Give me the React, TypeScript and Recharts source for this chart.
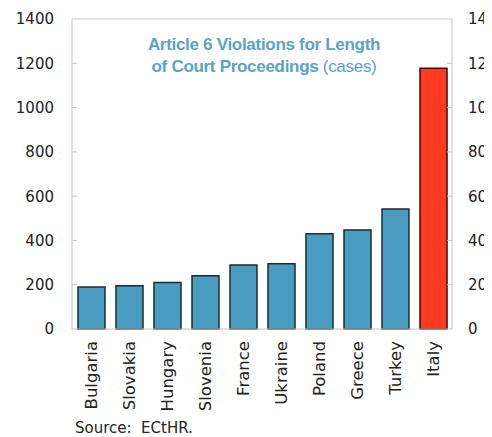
import React from 'react';
import { ComposedChart, Bar, Line, XAxis, YAxis, Cell, ReferenceLine } from 'recharts';

const countries = ['Bulgaria', 'Slovakia', 'Hungary', 'Slovenia', 'France', 'Ukraine', 'Poland', 'Greece', 'Turkey', 'Italy'];
const cases = [190, 195, 210, 240, 289, 295, 430, 447, 542, 1178];
const yTicks = [0, 200, 400, 600, 800, 1000, 1200, 1400];
const highlighted = 'Italy';

const data = countries.map((name, i) => ({ name, cases: cases[i] }));

const BLUE = '#4a9cc0';
const RED = '#ff3a20';
const FRAME = '#c4c4c4';
const TICK_FONT = 'DejaVu Sans, Verdana, sans-serif';

const LeftTick = (props: any) => {
  const { x, y, payload } = props;
  return (
    <g>
      {payload.value !== 0 && payload.value !== 1400 && (
        <line x1={x + 18} y1={y} x2={x + 23} y2={y} stroke={FRAME} strokeWidth={1} />
      )}
      <text x={x} y={y} dy="0.36em" textAnchor="end" fontFamily={TICK_FONT} fontSize={15} fill="#222">
        {payload.value}
      </text>
    </g>
  );
};

const RightTick = (props: any) => {
  const { x, y, payload } = props;
  return (
    <g>
      {payload.value !== 0 && payload.value !== 1400 && (
        <line x1={x - 21} y1={y} x2={x - 16} y2={y} stroke={FRAME} strokeWidth={1} />
      )}
      <text x={x} y={y} dy="0.36em" textAnchor="start" fontFamily={TICK_FONT} fontSize={15} fill="#222">
        {payload.value}
      </text>
    </g>
  );
};

const CountryTick = (props: any) => {
  const { x, y, payload } = props;
  return (
    <text
      x={x}
      y={y}
      dy={6}
      textAnchor="end"
      transform={`rotate(-90, ${x}, ${y})`}
      fontFamily={TICK_FONT}
      fontSize={16.5}
      fill="#222"
    >
      {payload.value}
    </text>
  );
};

export default function App() {
  return (
    <div style={{ position: 'relative', width: 484, height: 429, overflow: 'hidden', background: '#fff' }}>
      <ComposedChart
        width={520}
        height={429}
        data={data}
        margin={{ top: 11, right: 0, bottom: 18, left: 0 }}
        barSize={27}
      >
        <XAxis
          dataKey="name"
          interval={0}
          height={90}
          tickSize={0}
          tickMargin={12}
          tickLine={false}
          axisLine={{ stroke: FRAME }}
          tick={<CountryTick />}
        />
        <YAxis
          yAxisId="left"
          width={64}
          domain={[0, 1400]}
          ticks={yTicks}
          interval={0}
          tickSize={0}
          tickMargin={18}
          tickLine={false}
          axisLine={{ stroke: FRAME }}
          tick={<LeftTick />}
        />
        <YAxis
          yAxisId="right"
          orientation="right"
          width={76}
          domain={[0, 1400]}
          ticks={yTicks}
          interval={0}
          tickSize={0}
          tickMargin={16}
          tickLine={false}
          axisLine={{ stroke: FRAME }}
          tick={<RightTick />}
        />
        <ReferenceLine yAxisId="left" y={1400} stroke={FRAME} />
        <Bar yAxisId="left" dataKey="cases" stroke="#1c2b32" strokeWidth={1.5} isAnimationActive={false}>
          {data.map((d) => (
            <Cell key={d.name} fill={d.name === highlighted ? RED : BLUE} stroke={d.name === highlighted ? '#3a0c06' : '#1c2b32'} />
          ))}
        </Bar>
        {/* mirrored scale on the right side shares the same series */}
        <Line
          yAxisId="right"
          dataKey="cases"
          stroke="none"
          dot={false}
          activeDot={false}
          legendType="none"
          isAnimationActive={false}
        />
      </ComposedChart>
      <div
        style={{
          position: 'absolute',
          left: 96,
          width: 320,
          top: 26,
          textAlign: 'center',
          fontFamily: 'Liberation Sans, Arial, sans-serif',
          fontSize: 17,
          lineHeight: '22px',
          fontWeight: 'bold',
          color: '#5aa3c5',
          letterSpacing: -0.3,
        }}
      >
        <div>Article 6 Violations for Length</div>
        <div>
          of Court Proceedings <span style={{ fontWeight: 'normal' }}>(cases)</span>
        </div>
      </div>
      <div
        style={{
          position: 'absolute',
          left: 67,
          top: 413,
          fontFamily: TICK_FONT,
          fontSize: 15,
          lineHeight: '15px',
          color: '#222',
          whiteSpace: 'pre',
        }}
      >
        {'Source:  ECtHR.'}
      </div>
    </div>
  );
}
